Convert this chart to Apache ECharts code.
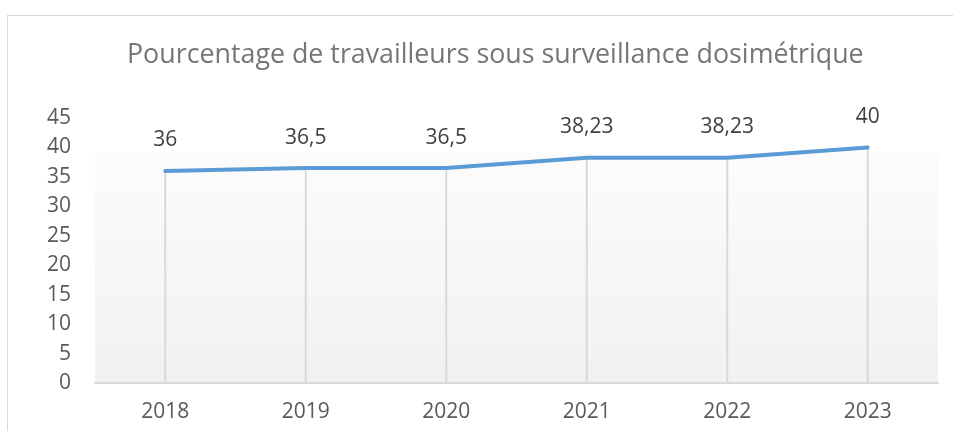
<!DOCTYPE html>
<html><head><meta charset="utf-8">
<script src="https://cdn.jsdelivr.net/npm/echarts@6/dist/echarts.min.js"></script>
<style>
html,body{margin:0;padding:0;background:#fff;}
#frame{position:absolute;left:7px;top:15px;width:946px;height:416px;border-left:1.5px solid #d9d9d9;border-top:1.5px solid #d9d9d9;}
#c{position:absolute;left:0;top:0;width:953px;height:431px;}
</style></head>
<body>
<div id="frame"></div>
<div id="c"></div>
<script>
const titleText = 'Pourcentage de travailleurs sous surveillance dosimétrique';
const years = ['2018','2019','2020','2021','2022','2023'];
const values = [36, 36.5, 36.5, 38.23, 38.23, 40];
const yTicks = [0,5,10,15,20,25,30,35,40,45];

const fontFam = '"Open Sans", "Liberation Sans", sans-serif';
const chart = echarts.init(document.getElementById('c'), null, {renderer:'canvas'});
chart.setOption({
  animation:false,
  title:{text:titleText,left:122,top:37,textStyle:{fontFamily:fontFam,fontSize:26.8,fontWeight:'normal',color:'#767676'}},
  grid:{left:95,right:15,top:118,bottom:48,show:true,borderWidth:0,
    backgroundColor:{type:'linear',x:0,y:0,x2:0,y2:1,colorStops:[
      {offset:0,color:'#ffffff'},{offset:0.13,color:'#ffffff'},{offset:0.131,color:'#fcfcfc'},{offset:1,color:'#f1f1f1'}]}},
  xAxis:{type:'category',data:years,boundaryGap:true,
    axisLine:{show:true,lineStyle:{color:'#d9d9d9',width:2}},
    axisTick:{show:false},splitLine:{show:false},
    axisLabel:{fontFamily:fontFam,fontSize:21,color:'#595959',margin:19}},
  yAxis:{type:'value',min:yTicks[0],max:yTicks[yTicks.length-1],interval:5,
    axisLine:{show:false},axisTick:{show:false},splitLine:{show:false},
    axisLabel:{fontFamily:fontFam,fontSize:21,color:'#595959',margin:24}},
  series:[
    {type:'bar',data:values,barWidth:2,itemStyle:{color:'#d9d9d9'},z:1,
      label:{show:true,position:'top',distance:20,fontFamily:fontFam,fontSize:21,color:'#404040',
        formatter:p=>String(p.value).replace('.',',')}},
    {type:'line',data:values,symbol:'none',z:3,
      lineStyle:{color:'#5b9bd5',width:4,cap:'round'}}
  ]
});
</script>
</body></html>
